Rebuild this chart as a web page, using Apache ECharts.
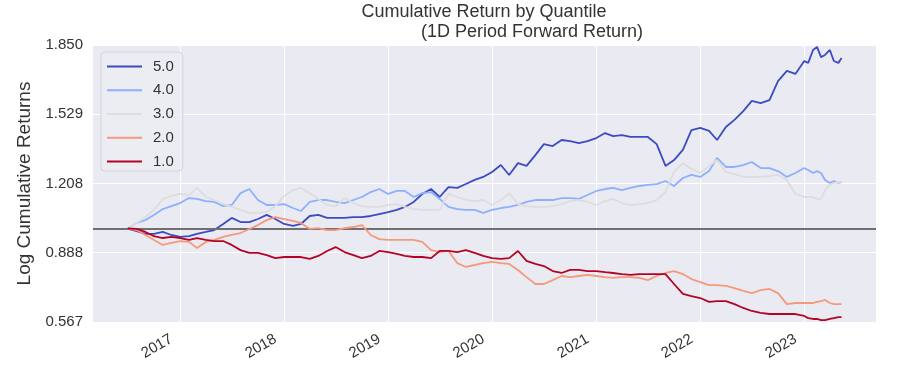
<!DOCTYPE html>
<html><head><meta charset="utf-8">
<script src="https://cdn.jsdelivr.net/npm/echarts@6/dist/echarts.min.js"></script>
<style>html,body{margin:0;padding:0;background:#fff}#c{width:902px;height:374px}</style>
</head><body><div id="c"></div>
<script>
const dates = [
'2016-07-01','2016-08-01','2016-09-01','2016-10-01','2016-11-01','2016-12-01',
'2017-01-01','2017-02-01','2017-03-01','2017-04-01','2017-05-01','2017-06-01','2017-07-01','2017-08-01','2017-09-01','2017-10-01','2017-11-01','2017-12-01',
'2018-01-01','2018-02-01','2018-03-01','2018-04-01','2018-05-01','2018-06-01','2018-07-01','2018-08-01','2018-09-01','2018-10-01','2018-11-01','2018-12-01',
'2019-01-01','2019-02-01','2019-03-01','2019-04-01','2019-05-01','2019-06-01','2019-07-01','2019-08-01','2019-09-01','2019-10-01','2019-11-01','2019-12-01',
'2020-01-01','2020-02-01','2020-03-01','2020-04-01','2020-05-01','2020-06-01','2020-07-01','2020-08-01','2020-09-01','2020-10-01','2020-11-01','2020-12-01',
'2021-01-01','2021-02-01','2021-03-01','2021-04-01','2021-05-01','2021-06-01','2021-07-01','2021-08-01','2021-09-01','2021-10-01','2021-11-01','2021-12-01',
'2022-01-01','2022-02-01','2022-03-01','2022-04-01','2022-05-01','2022-06-01','2022-07-01','2022-08-01','2022-09-01','2022-10-01','2022-11-01','2022-12-01',
'2023-01-01','2023-01-15','2023-02-01','2023-02-15','2023-03-01','2023-03-15','2023-04-01','2023-04-15','2023-05-01','2023-05-12'
];
const q5 = [
1.000,0.988,0.975,0.975,0.984,0.970,
0.961,0.965,0.975,0.984,0.993,1.021,1.049,1.030,1.030,1.044,1.063,1.044,
1.021,1.012,1.021,1.058,1.063,1.049,1.049,1.049,1.053,1.053,1.058,1.067,
1.076,1.086,1.100,1.123,1.160,1.183,1.146,1.192,1.188,1.206,1.225,1.239,
1.262,1.294,1.248,1.303,1.290,1.340,1.391,1.382,1.410,1.405,1.396,1.405,
1.419,1.442,1.428,1.433,1.424,1.424,1.424,1.391,1.290,1.317,1.364,1.456,
1.466,1.452,1.410,1.470,1.503,1.544,1.591,1.581,1.595,1.683,1.730,1.716,
1.776,1.767,1.827,1.841,1.794,1.804,1.827,1.776,1.767,1.790
];
const q4 = [
1.000,1.026,1.039,1.063,1.090,1.104,
1.118,1.141,1.137,1.127,1.123,1.104,1.109,1.164,1.183,1.132,1.109,1.109,
1.113,1.095,1.081,1.123,1.132,1.132,1.123,1.118,1.132,1.146,1.169,1.183,
1.160,1.174,1.174,1.146,1.164,1.169,1.137,1.100,1.090,1.086,1.086,1.072,
1.086,1.095,1.100,1.109,1.123,1.132,1.132,1.132,1.141,1.141,1.137,1.155,
1.174,1.183,1.188,1.178,1.188,1.197,1.202,1.206,1.220,1.197,1.234,1.248,
1.239,1.266,1.327,1.285,1.285,1.294,1.308,1.280,1.280,1.266,1.239,1.257,
1.280,1.271,1.257,1.266,1.257,1.225,1.211,1.220,1.211,1.215
];
const q3 = [
1.000,1.026,1.053,1.086,1.137,1.151,
1.160,1.155,1.188,1.146,1.132,1.113,1.100,1.086,1.072,1.072,1.076,1.104,
1.151,1.178,1.188,1.164,1.137,1.109,1.104,1.141,1.118,1.104,1.100,1.100,
1.109,1.113,1.100,1.090,1.086,1.086,1.086,1.160,1.146,1.132,1.127,1.132,
1.109,1.132,1.164,1.113,1.104,1.100,1.100,1.104,1.113,1.127,1.132,1.123,
1.109,1.127,1.137,1.118,1.109,1.113,1.118,1.132,1.169,1.262,1.303,1.276,
1.257,1.290,1.317,1.262,1.252,1.239,1.239,1.239,1.243,1.248,1.225,1.160,
1.146,1.146,1.146,1.137,1.137,1.178,1.202,1.211,1.215,1.215
];
const q2 = [
1.000,0.993,0.970,0.947,0.924,0.933,
0.942,0.938,0.910,0.938,0.947,0.961,0.970,0.979,0.998,1.016,1.039,1.053,
1.044,1.035,1.026,0.998,1.002,0.993,0.993,1.002,1.007,1.016,0.970,0.951,
0.947,0.947,0.947,0.947,0.938,0.900,0.891,0.896,0.840,0.822,0.831,0.840,
0.845,0.840,0.836,0.808,0.775,0.743,0.743,0.761,0.780,0.775,0.780,0.785,
0.780,0.775,0.771,0.775,0.775,0.771,0.761,0.780,0.794,0.803,0.789,0.766,
0.752,0.738,0.738,0.734,0.724,0.711,0.701,0.715,0.720,0.701,0.650,0.655,
0.655,0.655,0.655,0.660,0.664,0.669,0.655,0.650,0.650,0.650
];
const q1 = [
1.000,0.998,0.984,0.965,0.956,0.961,
0.956,0.947,0.956,0.947,0.942,0.942,0.924,0.900,0.887,0.887,0.877,0.863,
0.868,0.868,0.868,0.859,0.873,0.896,0.914,0.891,0.877,0.863,0.873,0.896,
0.891,0.882,0.873,0.868,0.868,0.863,0.896,0.896,0.891,0.900,0.887,0.873,
0.863,0.859,0.863,0.896,0.850,0.836,0.826,0.803,0.794,0.808,0.808,0.803,
0.803,0.798,0.794,0.789,0.785,0.789,0.789,0.789,0.789,0.743,0.697,0.687,
0.678,0.660,0.664,0.664,0.650,0.632,0.618,0.609,0.604,0.604,0.604,0.604,
0.595,0.585,0.581,0.581,0.576,0.576,0.581,0.585,0.590,0.590
];
const seriesNames = ['5.0','4.0','3.0','2.0','1.0'];
const seriesValues = [q5, q4, q3, q2, q1];
const yTickValues = [0.567, 0.888, 1.208, 1.529, 1.850];
const yTickLabels = ['0.567', '0.888', '1.208', '1.529', '1.850'];
const xTickYears = ['2017', '2018', '2019', '2020', '2021', '2022', '2023'];
const baseline = 1.0;
const titleLine1 = 'Cumulative Return by Quantile';
const titleLine2 = '(1D Period Forward Return)';
const yAxisName = 'Log Cumulative Returns';

const colors = ['#3b4cc0', '#8db0fe', '#dddddd', '#f49a7b', '#b40426'];
const FONT = '"Liberation Sans", Arial, Helvetica, sans-serif';
const TXT = '#333333';

function toTime(s) {
  const p = s.split('-').map(Number);
  return new Date(p[0], p[1] - 1, p[2]).getTime();
}
const xTickValues = xTickYears.map(y => new Date(+y, 0, 1).getTime());
const xMin = toTime('2016-03-01');
const xMax = toTime('2023-09-10');

const chart = echarts.init(document.getElementById('c'), null, {renderer: 'canvas'});

const series = seriesNames.map((name, k) => ({
  name: name,
  type: 'line',
  data: dates.map((d, i) => [toTime(d), seriesValues[k][i]]),
  showSymbol: false,
  symbol: 'none',
  lineStyle: {width: 1.8, color: colors[k]},
  itemStyle: {color: colors[k]},
  emphasis: {disabled: true},
  z: 2 + k
}));
series.push({
  name: 'baseline',
  type: 'line',
  data: [],
  silent: true,
  z: 10,
  markLine: {
    silent: true,
    symbol: 'none',
    label: {show: false},
    lineStyle: {color: '#6f6f6f', width: 2, type: 'solid'},
    emphasis: {disabled: true},
    data: [{yAxis: baseline}]
  }
});

chart.setOption({
  animation: false,
  backgroundColor: '#ffffff',
  title: [
    {text: titleLine1, left: 484, top: 3, textAlign: 'center', padding: 0,
     textStyle: {fontFamily: FONT, fontSize: 18, fontWeight: 'normal', color: TXT}},
    {text: titleLine2, left: 532, top: 23, textAlign: 'center', padding: 0,
     textStyle: {fontFamily: FONT, fontSize: 18, fontWeight: 'normal', color: TXT}}
  ],
  legend: {
    data: seriesNames.map(n => ({name: n, icon: 'rect'})),
    orient: 'vertical',
    left: 101, top: 52,
    itemWidth: 35, itemHeight: 2, itemGap: 8.75,
    padding: [7, 9, 2, 6],
    backgroundColor: 'rgba(236,236,243,0.9)',
    borderColor: '#d3d3da', borderWidth: 1, borderRadius: 4,
    textStyle: {fontFamily: FONT, fontSize: 15, lineHeight: 15, color: TXT, padding: [0, 0, 0, 6]}
  },
  grid: {left: 93, right: 26, top: 45, bottom: 52, show: true,
         backgroundColor: '#eaeaf2', borderWidth: 0, containLabel: false},
  xAxis: {
    type: 'value', min: xMin, max: xMax,
    axisLine: {show: false},
    axisTick: {show: false, customValues: xTickValues},
    splitLine: {show: true, lineStyle: {color: '#ffffff', width: 1}},
    axisLabel: {customValues: xTickValues, rotate: 30, margin: 11, padding: [0, 10, 0, 0],
                fontFamily: FONT, fontSize: 15, color: TXT, hideOverlap: false,
                formatter: v => {
                  const i = xTickValues.indexOf(v);
                  return i >= 0 ? xTickYears[i] : '';
                }}
  },
  yAxis: {
    type: 'value', min: yTickValues[0], max: yTickValues[yTickValues.length - 1],
    name: yAxisName, nameLocation: 'middle', nameGap: 46,
    nameTextStyle: {fontFamily: FONT, fontSize: 19, color: TXT},
    axisLine: {show: false},
    axisTick: {show: false, customValues: yTickValues},
    splitLine: {show: true, lineStyle: {color: '#ffffff', width: 1}},
    axisLabel: {customValues: yTickValues, margin: 10, fontFamily: FONT, fontSize: 15, color: TXT,
                formatter: v => {
                  const i = yTickValues.findIndex(t => Math.abs(t - v) < 1e-6);
                  return i >= 0 ? yTickLabels[i] : '';
                }}
  },
  series: series
});
</script>
</body></html>
